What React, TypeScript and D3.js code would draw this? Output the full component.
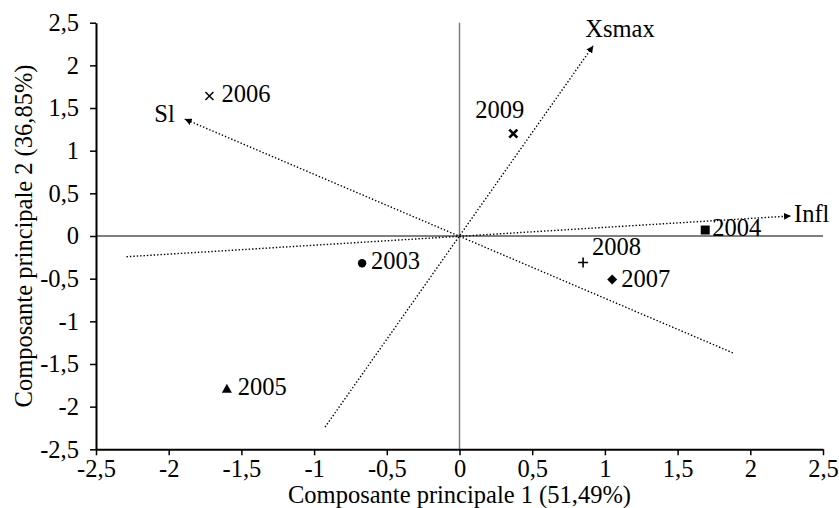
import React, { useRef, useEffect } from 'react';
import * as d3 from 'd3';

// individus (années) sur le plan factoriel
const years = ['2003', '2004', '2005', '2006', '2007', '2008', '2009'];
const pc1 = [-0.67, 1.69, -1.60, -1.72, 1.05, 0.85, 0.37];
const pc2 = [-0.32, 0.07, -1.79, 1.64, -0.51, -0.31, 1.20];
const shapes = ['circle', 'square', 'triangle', 'cross', 'diamond', 'plus', 'boldcross'];

// variables (flèches en pointillés)
const varNames = ['Infl', 'Xsmax', 'Sl'];
const headX = [2.28, 0.92, -1.89];
const headY = [0.235, 2.23, 1.37];
const tailX = [-2.29, -0.925, 1.88];
const tailY = [-0.243, -2.24, -1.37];

const tickVals = [-2.5, -2, -1.5, -1, -0.5, 0, 0.5, 1, 1.5, 2, 2.5];

const W = 839;
const H = 508;
const FONT = '"Liberation Serif", "Times New Roman", serif';
const FS = 24.5;

export default function App() {
    const svgRef = useRef<SVGSVGElement>(null);

    useEffect(() => {
        const svg = d3.select(svgRef.current);
        svg.selectAll('*').remove();

        const x = d3.scaleLinear().domain([-2.5, 2.5]).range([96, 823]);
        const y = d3.scaleLinear().domain([-2.5, 2.5]).range([449.3, 22.7]);
        const fmt = (d: any) => String(d).replace('.', ',');

        svg.append('defs')
            .append('marker')
            .attr('id', 'arrow')
            .attr('viewBox', '0 0 10 10')
            .attr('refX', 10)
            .attr('refY', 5)
            .attr('markerWidth', 7)
            .attr('markerHeight', 7)
            .attr('markerUnits', 'userSpaceOnUse')
            .attr('orient', 'auto')
            .append('path')
            .attr('d', 'M0,0L10,5L0,10Z')
            .attr('fill', '#000');

        // lignes du zéro
        svg.append('line')
            .attr('x1', x(-2.5)).attr('x2', x(2.5))
            .attr('y1', y(0)).attr('y2', y(0))
            .attr('stroke', '#000').attr('stroke-width', 1);
        svg.append('line')
            .attr('x1', x(0)).attr('x2', x(0))
            .attr('y1', y(2.5)).attr('y2', y(-2.5))
            .attr('stroke', '#808080').attr('stroke-width', 1.5);

        // axes
        const xAxis = d3.axisBottom(x).tickValues(tickVals).tickFormat(fmt)
            .tickSizeInner(6).tickSizeOuter(0).tickPadding(4);
        const yAxis = d3.axisLeft(y).tickValues(tickVals).tickFormat(fmt)
            .tickSizeInner(6).tickSizeOuter(0).tickPadding(11);

        const gx = svg.append('g').attr('transform', `translate(0,${y(-2.5)})`).call(xAxis);
        const gy = svg.append('g').attr('transform', `translate(${x(-2.5)},0)`).call(yAxis);
        [gx, gy].forEach(g => {
            g.select('.domain').attr('stroke-width', 2);
            g.selectAll('.tick line').attr('stroke-width', 1.5);
            g.selectAll('.tick text')
                .attr('font-family', FONT)
                .attr('font-size', FS)
                .attr('fill', '#000');
        });

        // titres des axes
        svg.append('text')
            .attr('x', 459.5).attr('y', 503)
            .attr('text-anchor', 'middle')
            .attr('font-family', FONT).attr('font-size', FS)
            .text('Composante principale 1 (51,49%)');
        svg.append('text')
            .attr('transform', `translate(32,${y(0)}) rotate(-90)`)
            .attr('text-anchor', 'middle')
            .attr('font-family', FONT).attr('font-size', FS)
            .text('Composante principale 2 (36,85%)');

        // flèches des variables
        const varOffsets = [[3, 6, 'start'], [-8, -9, 'start'], [-10, 3, 'end']];
        varNames.forEach((name, i) => {
            svg.append('line')
                .attr('x1', x(tailX[i])).attr('y1', y(tailY[i]))
                .attr('x2', x(headX[i])).attr('y2', y(headY[i]))
                .attr('stroke', '#000')
                .attr('stroke-width', 1.4)
                .attr('stroke-dasharray', '1.4 2')
                .attr('marker-end', 'url(#arrow)');
            const o = varOffsets[i];
            svg.append('text')
                .attr('x', x(headX[i]) + (o[0] as number))
                .attr('y', y(headY[i]) + (o[1] as number))
                .attr('text-anchor', o[2] as string)
                .attr('font-family', FONT).attr('font-size', FS)
                .text(name);
        });

        // individus
        const labelOffsets = [[9, 6, 'start'], [7, 6, 'start'], [11, 6, 'start'], [12, 6, 'start'],
            [9, 7, 'start'], [9, -7, 'start'], [11, -16, 'end']];
        years.forEach((yr, i) => {
            const px = x(pc1[i]);
            const py = y(pc2[i]);
            const g = svg.append('g').attr('transform', `translate(${px},${py})`);
            const s = shapes[i];
            if (s === 'circle') {
                g.append('circle').attr('r', 4.2).attr('fill', '#000');
            } else if (s === 'square') {
                g.append('rect').attr('x', -4.5).attr('y', -4.5).attr('width', 9).attr('height', 9).attr('fill', '#000');
            } else if (s === 'triangle') {
                g.append('path').attr('d', 'M0,-5L5,4L-5,4Z').attr('fill', '#000');
            } else if (s === 'diamond') {
                g.append('path').attr('d', 'M0,-5L5,0L0,5L-5,0Z').attr('fill', '#000');
            } else if (s === 'plus') {
                g.append('path').attr('d', 'M-5,0H5M0,-5V5').attr('stroke', '#000').attr('stroke-width', 1.6);
            } else if (s === 'cross') {
                g.append('path').attr('d', 'M-4,-4L4,4M-4,4L4,-4').attr('stroke', '#000').attr('stroke-width', 1.5);
            } else {
                g.append('path').attr('d', 'M-4,-4L4,4M-4,4L4,-4').attr('stroke', '#000').attr('stroke-width', 2.6);
            }
            const o = labelOffsets[i];
            svg.append('text')
                .attr('x', px + (o[0] as number))
                .attr('y', py + (o[1] as number))
                .attr('text-anchor', o[2] as string)
                .attr('font-family', FONT).attr('font-size', FS)
                .text(yr);
        });
    }, []);

    return (
        <svg ref={svgRef} width={W} height={H}
            style={{ position: 'absolute', left: 0, top: 0, background: '#fff' }} />
    );
}
